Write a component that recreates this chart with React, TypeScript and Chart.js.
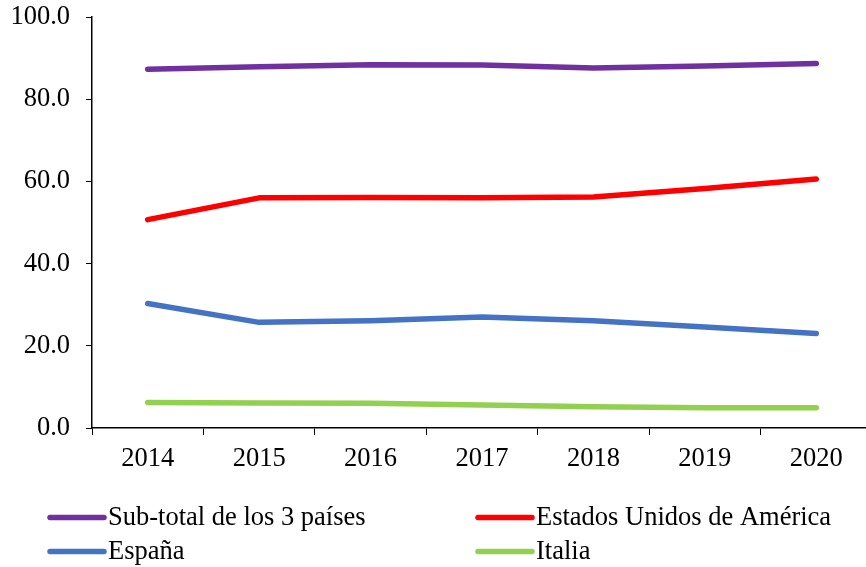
import React, { useEffect, useRef } from "react";
import { Chart, registerables } from "chart.js";

Chart.register(...registerables);

const years = ["2014", "2015", "2016", "2017", "2018", "2019", "2020"];
const subTotal = [87.3, 87.9, 88.4, 88.3, 87.6, 88.1, 88.7];
const estadosUnidos = [50.7, 56.0, 56.1, 56.0, 56.2, 58.3, 60.6];
const espana = [30.3, 25.7, 26.1, 27.0, 26.1, 24.6, 23.0];
const italia = [6.2, 6.1, 6.0, 5.6, 5.2, 4.9, 4.9];

const seriesNames = ["Sub-total de los 3 países", "Estados Unidos de América", "España", "Italia"];
const seriesColors = ["#7030A0", "#FF0000", "#4472C4", "#92D050"];

const FONT_FAMILY = "'Liberation Serif', 'Times New Roman', serif";
const FONT_SIZE = 26.5;
const CANVAS_W = 872;

const legendPlugin = {
  id: "gridLegend",
  afterDraw(chart: any) {
    const ctx = chart.ctx;
    const cols = [
      { lx1: 50, lx2: 104, tx: 108 },
      { lx1: 478, lx2: 532, tx: 536 },
    ];
    const rows = [517.5, 551.5];
    chart.data.datasets.forEach((ds: any, i: number) => {
      const c = cols[i % 2];
      const y = rows[Math.floor(i / 2)];
      ctx.save();
      ctx.strokeStyle = ds.borderColor;
      ctx.lineWidth = 5.5;
      ctx.lineCap = "round";
      ctx.beginPath();
      ctx.moveTo(c.lx1, y);
      ctx.lineTo(c.lx2, y);
      ctx.stroke();
      ctx.fillStyle = "#000";
      ctx.font = `${FONT_SIZE}px ${FONT_FAMILY}`;
      ctx.textAlign = "left";
      ctx.textBaseline = "middle";
      ctx.fillText(ds.label, c.tx, y + 1);
      ctx.restore();
    });
  },
};

export default function App() {
  const ref = useRef<HTMLCanvasElement | null>(null);
  useEffect(() => {
    if (!ref.current) return;
    const values = [subTotal, estadosUnidos, espana, italia];
    const chart = new Chart(ref.current, {
      type: "line",
      data: {
        labels: years,
        datasets: values.map((v, i) => ({
          label: seriesNames[i],
          data: v,
          borderColor: seriesColors[i],
          backgroundColor: seriesColors[i],
          borderWidth: 5.5,
          borderCapStyle: "round",
          borderJoinStyle: "round",
          pointRadius: 0,
          tension: 0,
          fill: false,
        })),
      },
      options: {
        responsive: false,
        animation: false,
        devicePixelRatio: 1,
        layout: { padding: { top: 17, right: 0, left: 0, bottom: 0 } },
        plugins: { legend: { display: false }, tooltip: { enabled: false } },
        scales: {
          x: {
            type: "category",
            offset: true,
            grid: { offset: true, drawOnChartArea: false, drawTicks: true, tickLength: 7, color: "#000", lineWidth: 1 },
            border: { display: true, color: "#000", width: 1.5 },
            ticks: { color: "#000", font: { family: FONT_FAMILY, size: FONT_SIZE }, padding: 8, maxRotation: 0 },
            afterFit: (s: any) => {
              s.height = 139;
              s.paddingLeft = 0;
              s.paddingRight = 0;
            },
          },
          y: {
            min: 0,
            max: 100,
            grid: { drawOnChartArea: false, drawTicks: true, tickLength: 6, color: "#000", lineWidth: 1 },
            border: { display: true, color: "#000", width: 1.5 },
            ticks: {
              stepSize: 20,
              color: "#000",
              font: { family: FONT_FAMILY, size: FONT_SIZE },
              padding: 16,
              callback: (v: any) => Number(v).toFixed(1),
            },
            afterFit: (s: any) => {
              s.width = 92;
              s.paddingTop = 0;
              s.paddingBottom = 0;
            },
          },
        },
      } as any,
      plugins: [legendPlugin],
    });
    return () => chart.destroy();
  }, []);
  return (
    <div style={{ position: "fixed", left: 0, top: 0, width: 866, height: 567, overflow: "hidden" }}>
      <canvas ref={ref} width={CANVAS_W} height={567} style={{ display: "block" }} />
    </div>
  );
}
